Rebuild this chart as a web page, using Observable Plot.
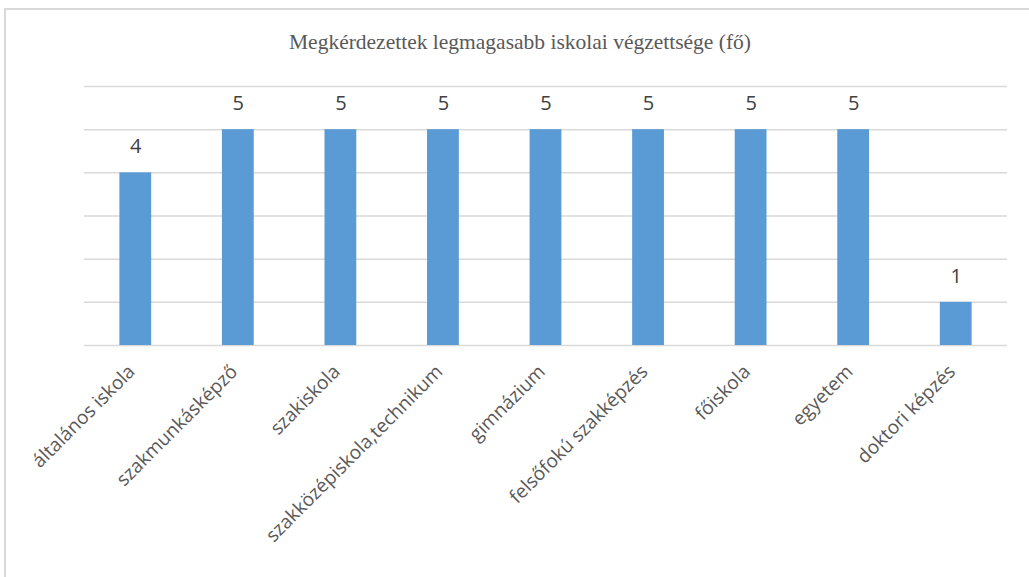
<!DOCTYPE html>
<html>
<head>
<meta charset="utf-8">
<script src="https://cdn.jsdelivr.net/npm/d3@7"></script>
<script src="https://cdn.jsdelivr.net/npm/@observablehq/plot@0.6"></script>
<style>
  html, body { margin: 0; padding: 0; background: #fff; width: 1029px; height: 577px; overflow: hidden; }
  #frame { position: absolute; left: 4px; top: 8px; width: 1040px; height: 600px; border: 2px solid #d9d9d9; box-sizing: border-box; }
  #wrap { position: absolute; left: 0; top: 0; width: 1029px; }
  #title { height: 60px; text-align: center; font-family: "Liberation Serif", "Times New Roman", serif; font-size: 21.5px; color: #595959; line-height: 21px; padding-top: 32px; box-sizing: border-box; width: 1040px; }
</style>
</head>
<body>
<div id="frame"></div>
<div id="wrap">
  <div id="title">Megkérdezettek legmagasabb iskolai végzettsége (fő)</div>
  <div id="chart"></div>
</div>
<script>
const categories = ["általános iskola", "szakmunkásképző", "szakiskola", "szakközépiskola,technikum", "gimnázium", "felsőfokú szakképzés", "főiskola", "egyetem", "doktori képzés"];
const values = [4, 5, 5, 5, 5, 5, 5, 5, 1];
const gridTicks = [0, 1, 2, 3, 4, 5, 6];

const data = categories.map((c, i) => ({category: c, value: values[i]}));

const chart = Plot.plot({
  width: 1029,
  height: 517,
  marginTop: 26,
  marginLeft: 84,
  marginRight: 22,
  marginBottom: 232,
  style: {fontFamily: "'Open Sans', sans-serif", background: "transparent"},
  x: {domain: categories, paddingInner: 0.69, paddingOuter: 0.345, round: false, axis: null},
  y: {domain: [0, 6], axis: null},
  marks: [
    Plot.ruleY(gridTicks, {stroke: "#d9d9d9", strokeWidth: 1.5}),
    Plot.barY(data, {x: "category", y: "value", fill: "#5b9bd5"}),
    Plot.text(data, {x: "category", y: "value", text: d => String(d.value), dy: -26, fontSize: 20, fill: "#404040"}),
    Plot.text(data, {x: "category", text: "category", frameAnchor: "bottom", rotate: -45, textAnchor: "end", lineAnchor: "middle", dx: -4, dy: 23, fontSize: 19, fill: "#595959"})
  ]
});
document.getElementById("chart").appendChild(chart);
</script>
</body>
</html>
